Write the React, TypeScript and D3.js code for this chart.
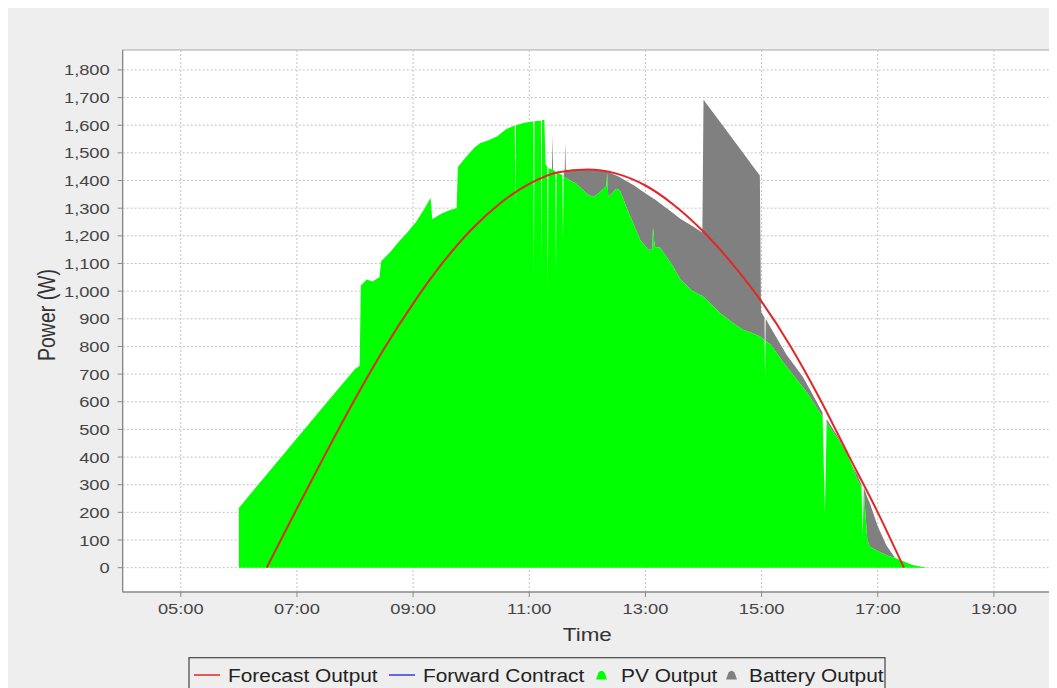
import * as React from 'react';
import * as d3 from 'd3';

// time of day in hours, shared by the two stacked area series
const times = [
  6.0, 6.5, 7.0, 7.5, 8.0, 8.08, 8.1, 8.2, 8.3, 8.42, 8.45, 8.6, 8.75, 8.9, 9.05, 9.2, 9.3, 9.33,
  9.5, 9.65, 9.75, 9.77, 9.9, 10.05, 10.15, 10.3, 10.45, 10.6, 10.75, 10.76, 10.77, 10.9, 11.0,
  11.07, 11.08, 11.09, 11.2, 11.21, 11.22, 11.26, 11.28, 11.31, 11.32, 11.33, 11.39, 11.4, 11.41,
  11.45, 11.46, 11.47, 11.57, 11.58, 11.59, 11.61, 11.62, 11.63, 11.7, 11.8, 11.9, 12.0, 12.1,
  12.2, 12.33, 12.34, 12.36, 12.5, 12.56, 12.7, 12.8, 12.91, 13.05, 13.12, 13.13, 13.16, 13.25,
  13.48, 13.6, 13.8, 13.98, 14.0, 14.28, 14.5, 14.68, 14.85, 14.97, 14.99, 15.05, 15.06, 15.07,
  15.15, 15.43, 15.71, 15.83, 16.05, 16.09, 16.12, 16.3, 16.47, 16.57, 16.65, 16.72, 16.74, 16.76,
  16.82, 16.87, 17.0, 17.15, 17.3, 17.45, 17.6, 17.85,
];

const pvOutput = [
  216, 342, 468, 594, 718, 730, 1020, 1042, 1035, 1050, 1108, 1140, 1178, 1212, 1250, 1300, 1338, 1260,
  1282, 1294, 1300, 1448, 1482, 1518, 1535, 1546, 1560, 1585, 1600, 1300, 1600, 1608, 1612,
  1614, 1050, 1614, 1616, 1100, 1618, 1620, 1460, 1450, 1000, 1445, 1440, 1440, 1440,
  1432, 1060, 1430, 1420, 1180, 1415, 1410, 1410, 1410, 1400, 1390, 1370, 1350, 1340,
  1355, 1380, 1430, 1340, 1370, 1365, 1290, 1240, 1185, 1150, 1150, 1232, 1160, 1158,
  1088, 1042, 1002, 982, 980, 922, 886, 860, 848, 836, 834, 822, 690, 820,
  808, 727, 652, 618, 545, 200, 525, 470, 414, 363, 318, 290, 120, 280,
  100, 75, 60, 45, 35, 22, 10, 0,
];

const batteryOutput = [
  0, 0, 0, 0, 0, 0, 0, 0, 0, 0, 0, 0, 0, 0, 0, 0, 0, 0,
  0, 0, 0, 0, 0, 0, 0, 0, 0, 0, 0, 0, 0, 0, 0,
  0, 0, 0, 0, 0, 0, 0, 0, 0, 0, 0, 0, 125, 0,
  0, 0, 0, 0, 0, 0, 30, 130, 30, 35, 48, 70, 90, 98,
  82, 52, 2, 90, 48, 47, 105, 143, 182, 197, 188, 104, 172, 160,
  194, 220, 234, 230, 712, 691, 665, 640, 604, 582, 91, 83, 0, 80,
  62, 43, 38, 27, 15, 0, 13, 8, 2, 3, 17, 10, 0, 10,
  155, 155, 90, 35, 0, 0, 0, 0,
];

const forecastTimes = [
  6.48, 7.0, 7.5, 8.0, 8.5, 9.0, 9.5, 10.0, 10.5, 11.0, 11.5, 12.0, 12.5, 13.0, 13.5, 14.0,
  14.5, 15.0, 15.5, 16.0, 16.5, 17.0, 17.45,
];
const forecastOutput = [
  0, 214, 415, 610, 792, 955, 1100, 1222, 1318, 1388, 1430, 1440, 1425, 1382, 1310, 1215,
  1098, 962, 800, 612, 405, 200, 0,
];

const timeTicks = [5, 7, 9, 11, 13, 15, 17, 19];
const timeLabels = ['05:00', '07:00', '09:00', '11:00', '13:00', '15:00', '17:00', '19:00'];
const powerTicks = [0, 100, 200, 300, 400, 500, 600, 700, 800, 900, 1000, 1100, 1200, 1300, 1400, 1500, 1600, 1700, 1800];

const seriesNames = ['Forecast Output', 'Forward Contract', 'PV Output', 'Battery Output'];
const seriesColors = ['#e32626', '#3a3ad6', '#00ff00', '#808080'];

const W = 1049, H = 680;
const plot = { left: 114.7, top: 42, right: 1044, bottom: 584 };
const FONT = "'Liberation Sans', Arial, sans-serif";
const SX = 1.18; // the reference is stretched sideways

const StretchText = (props: any) => {
  const { x, y, sx = SX, rotate, children, ...rest } = props;
  return (
    <g transform={`translate(${x},${y}) scale(${sx},1)${rotate ? ` rotate(${rotate})` : ''}`}>
      <text fontFamily={FONT} {...rest}>{children}</text>
    </g>
  );
};

export default function App() {
  React.useEffect(() => {
    document.documentElement.style.overflow = 'hidden';
    document.body.style.overflow = 'hidden';
  }, []);

  const x = d3.scaleLinear().domain([4, 20]).range([plot.left, plot.right]);
  const y = d3.scaleLinear().domain([-88, 1872]).range([plot.bottom, plot.top]);

  const rows = times.map((t, i) => ({ t, pv: pvOutput[i], battery: batteryOutput[i] }));
  const stacked = d3.stack<any>().keys(['pv', 'battery'])(rows);
  const area = d3.area<any>()
    .x((d) => x(d.data.t))
    .y0((d) => y(d[0]))
    .y1((d) => y(d[1]));

  const forecastLine = d3.line<number>()
    .x((_, i) => x(forecastTimes[i]))
    .y((d) => y(d))
    .curve(d3.curveMonotoneX);

  // legend layout (positions only)
  const legY = 667;
  const legText = [220, 415, 613, 741];
  const legMark = [199, 394, 593.5, 723.5];
  const areaMark = 'M-5.5,4.5 L-3,-2.5 Q0,-6 3,-2.5 L5.5,4.5 Z';

  return (
    <svg width={W} height={H} style={{ display: 'block' }}>
      <rect x={0} y={0} width={W} height={H} fill="#eeeeee" />
      <defs>
        <clipPath id="plotClip">
          <rect x={plot.left} y={plot.top} width={plot.right - plot.left} height={plot.bottom - plot.top} />
        </clipPath>
      </defs>
      <rect x={plot.left} y={plot.top} width={plot.right - plot.left} height={plot.bottom - plot.top}
        fill="#ffffff" stroke="#a8a8a8" strokeWidth={1} />

      {/* grid */}
      <g stroke="#c4c4c4" strokeWidth={1} strokeDasharray="2,2">
        {powerTicks.map((v) => (
          <line key={'h' + v} x1={plot.left} x2={plot.right} y1={y(v)} y2={y(v)} />
        ))}
        {timeTicks.map((t) => (
          <line key={'v' + t} x1={x(t)} x2={x(t)} y1={plot.top} y2={plot.bottom} />
        ))}
      </g>

      <g clipPath="url(#plotClip)">
        <path d={area(stacked[1]) || ''} fill={seriesColors[3]} />
        <path d={area(stacked[0]) || ''} fill={seriesColors[2]} />
        <path d={forecastLine(forecastOutput) || ''} fill="none" stroke={seriesColors[0]} strokeWidth={2} />
      </g>

      {/* axes */}
      <line x1={plot.left} x2={plot.left} y1={plot.top} y2={plot.bottom} stroke="#7a7a7a" />
      <line x1={plot.left} x2={plot.right} y1={plot.bottom} y2={plot.bottom} stroke="#7a7a7a" />
      {powerTicks.map((v) => (
        <g key={'yt' + v}>
          <line x1={plot.left - 5} x2={plot.left} y1={y(v)} y2={y(v)} stroke="#8a8a8a" />
          <StretchText x={plot.left - 13} y={y(v) + 5.5} fontSize={15.5} fill="#444" textAnchor="end">
            {d3.format(',')(v)}
          </StretchText>
        </g>
      ))}
      {timeTicks.map((t, i) => (
        <g key={'xt' + t}>
          <line x1={x(t)} x2={x(t)} y1={plot.bottom} y2={plot.bottom + 5} stroke="#8a8a8a" />
          <StretchText x={x(t)} y={plot.bottom + 22} fontSize={15.5} fill="#444" textAnchor="middle">
            {timeLabels[i]}
          </StretchText>
        </g>
      ))}
      <StretchText x={(plot.left + plot.right) / 2} y={633} fontSize={19} fill="#333" textAnchor="middle">
        Time
      </StretchText>
      <StretchText x={47} y={(plot.top + plot.bottom) / 2 - 6} rotate={-90} fontSize={19.5} fill="#333" textAnchor="middle">
        Power (W)
      </StretchText>

      {/* legend */}
      <rect x={181} y={649.7} width={696} height={34} fill="none" stroke="#444" strokeWidth={1.2} />
      {seriesNames.map((name, i) => (
        <g key={name}>
          {i < 2 ? (
            <line x1={legMark[i] - 13} x2={legMark[i] + 13} y1={legY} y2={legY} stroke={seriesColors[i]} strokeWidth={1.5} />
          ) : (
            <path d={areaMark} transform={`translate(${legMark[i]},${legY})`} fill={seriesColors[i]} />
          )}
          <StretchText x={legText[i]} y={673.7} fontSize={18} fill="#222" sx={1.16}>
            {name}
          </StretchText>
        </g>
      ))}
    </svg>
  );
}
